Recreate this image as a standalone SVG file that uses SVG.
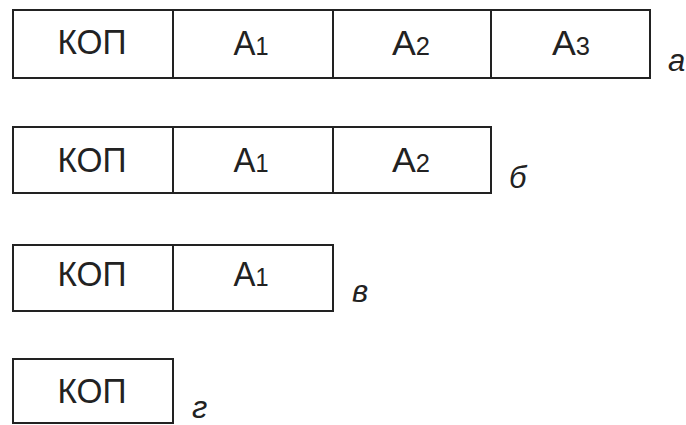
<svg xmlns="http://www.w3.org/2000/svg" width="686" height="425" viewBox="0 0 686 425">
<style>
.box{fill:#fff;stroke:#222;stroke-width:2}
.t{font-family:"Liberation Sans",Arial,sans-serif;font-size:35px;fill:#222;text-anchor:middle}
.s{font-size:25px}
.lbl{font-family:"Liberation Sans",Arial,sans-serif;font-size:31px;font-style:italic;fill:#222}
</style>
<rect width="686" height="425" fill="#fff"/>
<g id="row-a">
<g id="a-kop"><rect class="box" x="13" y="10" width="160" height="68"/><text class="t" x="92" y="54" textLength="69" lengthAdjust="spacingAndGlyphs">КОП</text></g>
<g id="a-a1"><rect class="box" x="173" y="10" width="160" height="68"/><text class="t" x="251" y="55" textLength="35" lengthAdjust="spacingAndGlyphs">А<tspan class="s">1</tspan></text></g>
<g id="a-a2"><rect class="box" x="333" y="10" width="158" height="68"/><text class="t" x="411" y="55" textLength="38" lengthAdjust="spacingAndGlyphs">А<tspan class="s">2</tspan></text></g>
<g id="a-a3"><rect class="box" x="491" y="10" width="159" height="68"/><text class="t" x="571" y="55" textLength="38" lengthAdjust="spacingAndGlyphs">А<tspan class="s">3</tspan></text></g>
<text class="lbl" x="668" y="71">а</text>
</g>
<g id="row-b">
<g id="b-kop"><rect class="box" x="13" y="127" width="160" height="66"/><text class="t" x="92" y="172" textLength="69" lengthAdjust="spacingAndGlyphs">КОП</text></g>
<g id="b-a1"><rect class="box" x="173" y="127" width="160" height="66"/><text class="t" x="251" y="172" textLength="35" lengthAdjust="spacingAndGlyphs">А<tspan class="s">1</tspan></text></g>
<g id="b-a2"><rect class="box" x="333" y="127" width="158" height="66"/><text class="t" x="411" y="172" textLength="38" lengthAdjust="spacingAndGlyphs">А<tspan class="s">2</tspan></text></g>
<text class="lbl" x="509" y="188">б</text>
</g>
<g id="row-c">
<g id="c-kop"><rect class="box" x="13" y="245" width="160" height="66"/><text class="t" x="92" y="286" textLength="69" lengthAdjust="spacingAndGlyphs">КОП</text></g>
<g id="c-a1"><rect class="box" x="173" y="245" width="160" height="66"/><text class="t" x="251" y="286" textLength="35" lengthAdjust="spacingAndGlyphs">А<tspan class="s">1</tspan></text></g>
<text class="lbl" x="352" y="302">в</text>
</g>
<g id="row-d">
<g id="d-kop"><rect class="box" x="13" y="359" width="160" height="64"/><text class="t" x="92" y="403" textLength="69" lengthAdjust="spacingAndGlyphs">КОП</text></g>
<text class="lbl" x="192" y="418">г</text>
</g>
<g id="connectors"></g>
</svg>
